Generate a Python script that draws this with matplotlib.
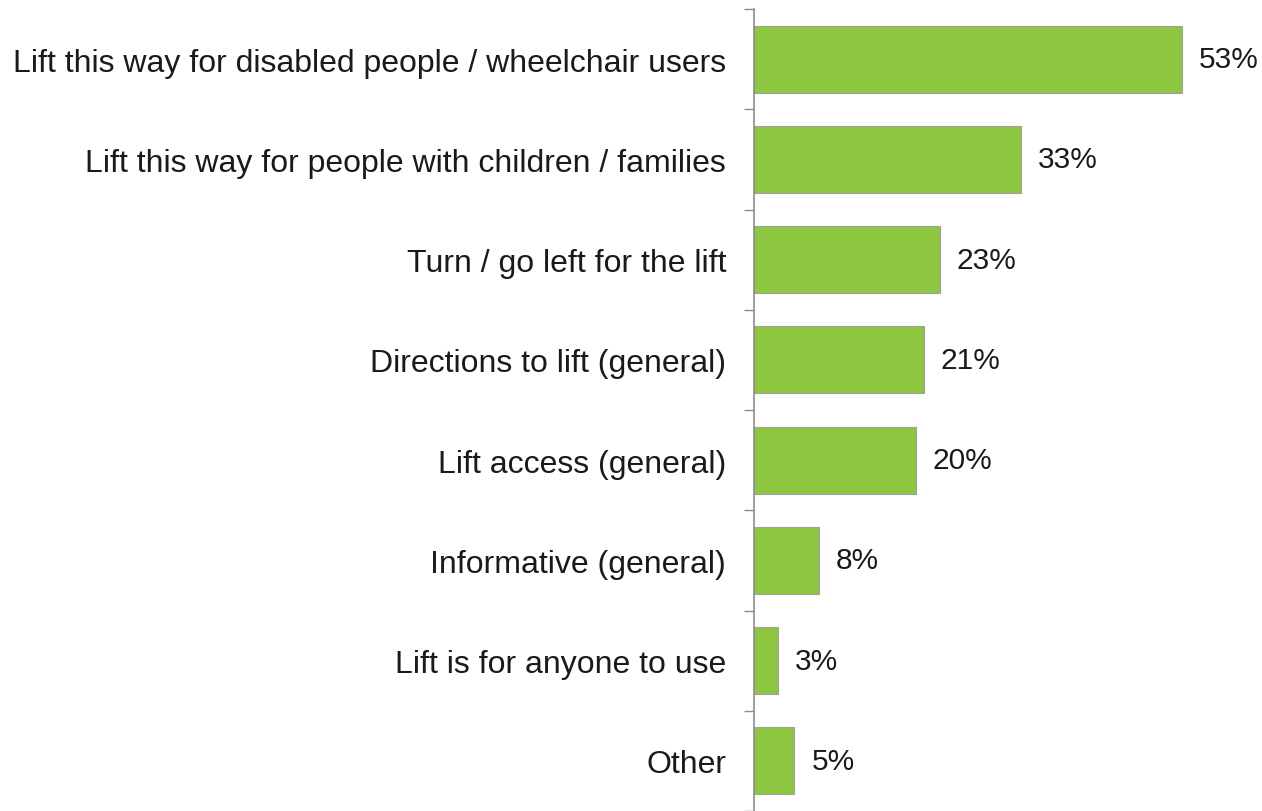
import matplotlib.pyplot as plt
from matplotlib.ticker import FixedLocator

categories = [
    "Lift this way for disabled people / wheelchair users",
    "Lift this way for people with children / families",
    "Turn / go left for the lift",
    "Directions to lift (general)",
    "Lift access (general)",
    "Informative (general)",
    "Lift is for anyone to use",
    "Other",
]
values = [53, 33, 23, 21, 20, 8, 3, 5]

plt.rcParams['font.family'] = ['Liberation Sans', 'DejaVu Sans']

fig = plt.figure(figsize=(12.62, 8.12), dpi=100)
ax = fig.add_axes([754 / 1262, 0.0, 508 / 1262, 1 - 10 / 812])

y = list(range(len(categories)))
ax.barh(y, values, height=0.67, color="#8DC63F", edgecolor="#A0A0A0", linewidth=0.8)

for yi, v in zip(y, values):
    ax.text(v + 2.1, yi, f"{v}%", va="center", ha="left", fontsize=21.5, color="#1a1a1a")

ax.set_ylim(len(categories) - 0.5, -0.5)
ax.set_xlim(0, 62.9)
ax.set_yticks(y)
ax.set_yticklabels(categories, fontsize=23, color="#1a1a1a")
ax.tick_params(axis="y", which="major", length=0, pad=20)
ax.yaxis.set_minor_locator(FixedLocator([i - 0.5 for i in range(len(categories) + 1)]))
ax.tick_params(axis="y", which="minor", length=7.5, color="#8c8c8c", width=1)
ax.set_xticks([])

for s in ["top", "right", "bottom"]:
    ax.spines[s].set_visible(False)
ax.spines["left"].set_color("#8c8c8c")
ax.spines["left"].set_linewidth(1.2)

fig.savefig("out.png", dpi=100)
